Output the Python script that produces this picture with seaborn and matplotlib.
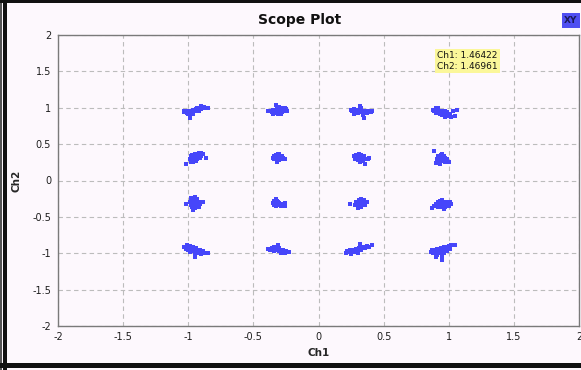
import pandas as pd
import matplotlib
matplotlib.use('Agg')
import matplotlib.pyplot as plt
import seaborn as sns
from matplotlib.patches import Rectangle

# =============================================================================
# Points, one list per constellation row (Ch1, Ch2)
# =============================================================================
row_top = [
    (-1.03, 0.95), (-1.03, 0.94), (-1.02, 0.96), (-1.01, 0.93), (-1.00, 0.95),
    (-0.99, 0.92), (-0.99, 0.94), (-0.98, 0.96), (-0.97, 0.93), (-0.97, 0.95),
    (-0.96, 0.97), (-0.96, 0.94), (-0.95, 0.96), (-0.94, 0.98), (-0.94, 0.95),
    (-0.93, 0.97), (-0.92, 0.99), (-0.92, 0.95), (-0.91, 0.99), (-0.90, 0.98),
    (-0.90, 1.03), (-0.89, 1.00), (-0.88, 1.01), (-0.87, 0.99), (-0.86, 1.00),
    (-0.85, 0.99), (-0.99, 0.86), (-1.00, 0.91), (-0.96, 0.92), (-0.93, 1.00),
    (-0.39, 0.95), (-0.37, 0.96), (-0.36, 0.94), (-0.35, 0.97), (-0.34, 0.93),
    (-0.34, 0.95), (-0.33, 0.96), (-0.32, 0.94), (-0.32, 0.98), (-0.31, 0.92),
    (-0.31, 0.95), (-0.30, 0.97), (-0.30, 0.93), (-0.29, 0.96), (-0.28, 0.99),
    (-0.28, 0.94), (-0.27, 0.97), (-0.26, 1.00), (-0.26, 0.95), (-0.25, 0.98),
    (-0.24, 0.96), (-0.33, 1.04), (-0.30, 1.01), (-0.35, 0.92), (-0.29, 0.91),
    (0.25, 0.97), (0.26, 0.95), (0.27, 0.98), (0.28, 0.94), (0.29, 0.96),
    (0.30, 0.93), (0.31, 0.95), (0.32, 0.94), (0.32, 1.02), (0.33, 0.99),
    (0.33, 0.96), (0.34, 0.93), (0.35, 0.95), (0.36, 0.94), (0.37, 0.93),
    (0.38, 0.95), (0.39, 0.94), (0.40, 0.94), (0.41, 0.95), (0.35, 0.86),
    (0.34, 0.90), (0.30, 0.97), (0.27, 0.92),
    (0.88, 0.97), (0.89, 0.95), (0.90, 0.93), (0.91, 0.97), (0.92, 0.94),
    (0.92, 0.99), (0.93, 0.92), (0.94, 0.96), (0.95, 0.90), (0.96, 0.93),
    (0.97, 0.95), (0.98, 0.91), (0.99, 0.94), (1.00, 0.88), (1.01, 0.92),
    (1.02, 0.87), (1.03, 0.96), (1.05, 0.89), (1.06, 0.97), (0.97, 0.87),
    (0.90, 0.99),
]
row_upper = [
    (-0.99, 0.30), (-0.98, 0.33), (-0.97, 0.28), (-0.97, 0.35), (-0.96, 0.31),
    (-0.96, 0.27), (-0.95, 0.34), (-0.95, 0.30), (-0.94, 0.37), (-0.94, 0.32),
    (-0.93, 0.29), (-0.93, 0.35), (-0.92, 0.33), (-0.92, 0.38), (-0.91, 0.31),
    (-0.91, 0.36), (-0.90, 0.34), (-0.89, 0.37), (-0.98, 0.26), (-0.96, 0.25),
    (-1.015, 0.22), (-0.86, 0.31), (-0.95, 0.36), (-0.94, 0.27), (-0.90, 0.38),
    (-0.35, 0.31), (-0.34, 0.29), (-0.34, 0.33), (-0.33, 0.35), (-0.33, 0.30),
    (-0.32, 0.27), (-0.32, 0.32), (-0.31, 0.34), (-0.31, 0.30), (-0.30, 0.36),
    (-0.30, 0.31), (-0.30, 0.28), (-0.29, 0.33), (-0.29, 0.30), (-0.28, 0.34),
    (-0.27, 0.31), (-0.26, 0.30), (-0.32, 0.26), (-0.31, 0.37),
    (0.27, 0.33), (0.28, 0.30), (0.29, 0.35), (0.29, 0.31), (0.30, 0.28),
    (0.30, 0.34), (0.31, 0.32), (0.31, 0.37), (0.32, 0.30), (0.32, 0.33),
    (0.33, 0.35), (0.33, 0.29), (0.34, 0.31), (0.34, 0.27), (0.35, 0.33),
    (0.36, 0.30), (0.38, 0.29), (0.39, 0.31), (0.36, 0.23), (0.32, 0.26),
    (0.89, 0.40), (0.91, 0.30), (0.91, 0.27), (0.92, 0.33), (0.92, 0.29),
    (0.93, 0.31), (0.93, 0.25), (0.94, 0.35), (0.94, 0.30), (0.94, 0.27),
    (0.95, 0.32), (0.95, 0.28), (0.96, 0.34), (0.96, 0.30), (0.97, 0.26),
    (0.97, 0.31), (0.98, 0.28), (0.99, 0.30), (1.00, 0.25), (0.95, 0.37),
    (0.93, 0.22), (0.90, 0.24),
]
row_lower = [
    (-1.02, -0.32), (-0.99, -0.29), (-0.98, -0.33), (-0.97, -0.27), (-0.97, -0.36),
    (-0.96, -0.30), (-0.96, -0.34), (-0.95, -0.23), (-0.95, -0.28), (-0.95, -0.38),
    (-0.94, -0.31), (-0.94, -0.35), (-0.93, -0.26), (-0.93, -0.33), (-0.92, -0.30),
    (-0.92, -0.37), (-0.91, -0.32), (-0.885, -0.29), (-0.96, -0.40), (-0.98, -0.24),
    (-0.35, -0.31), (-0.34, -0.28), (-0.34, -0.33), (-0.33, -0.26), (-0.33, -0.30),
    (-0.32, -0.32), (-0.32, -0.28), (-0.31, -0.34), (-0.31, -0.30), (-0.30, -0.33),
    (-0.30, -0.31), (-0.29, -0.35), (-0.29, -0.32), (-0.28, -0.34), (-0.27, -0.33),
    (-0.26, -0.35), (-0.26, -0.31), (-0.33, -0.35),
    (0.24, -0.32), (0.28, -0.33), (0.29, -0.29), (0.30, -0.35), (0.31, -0.31),
    (0.31, -0.27), (0.32, -0.33), (0.32, -0.30), (0.33, -0.36), (0.33, -0.28),
    (0.34, -0.32), (0.34, -0.30), (0.35, -0.34), (0.35, -0.27), (0.36, -0.31),
    (0.36, -0.33), (0.37, -0.29), (0.30, -0.38), (0.33, -0.25),
    (0.87, -0.38), (0.89, -0.35), (0.90, -0.32), (0.91, -0.35), (0.92, -0.30),
    (0.93, -0.33), (0.93, -0.28), (0.94, -0.36), (0.94, -0.31), (0.95, -0.27),
    (0.95, -0.34), (0.96, -0.30), (0.97, -0.33), (0.97, -0.37), (0.98, -0.29),
    (0.99, -0.32), (1.00, -0.35), (1.01, -0.30), (1.02, -0.32), (0.96, -0.39),
    (0.92, -0.37),
]
row_bottom = [
    (-1.03, -0.91), (-1.02, -0.94), (-1.01, -0.89), (-1.00, -0.92), (-1.00, -0.95),
    (-0.99, -0.90), (-0.98, -0.93), (-0.98, -0.96), (-0.97, -0.91), (-0.97, -0.94),
    (-0.96, -0.97), (-0.96, -0.92), (-0.95, -0.95), (-0.95, -0.99), (-0.94, -0.93),
    (-0.93, -0.96), (-0.93, -1.00), (-0.92, -0.98), (-0.91, -0.95), (-0.90, -1.01),
    (-0.89, -0.97), (-0.87, -0.99), (-0.85, -1.00), (-0.95, -1.05), (-0.99, -0.98),
    (-0.39, -0.94), (-0.37, -0.96), (-0.36, -0.93), (-0.35, -0.95), (-0.34, -0.92),
    (-0.34, -0.97), (-0.33, -0.94), (-0.32, -0.91), (-0.32, -0.96), (-0.31, -0.94),
    (-0.30, -0.97), (-0.30, -0.93), (-0.29, -0.95), (-0.28, -0.98), (-0.27, -0.96),
    (-0.26, -0.99), (-0.25, -0.97), (-0.23, -0.98), (-0.31, -0.89), (-0.29, -1.00),
    (0.21, -0.99), (0.22, -0.97), (0.23, -0.98), (0.24, -0.96), (0.25, -0.99),
    (0.26, -0.97), (0.27, -0.95), (0.27, -0.98), (0.28, -0.96), (0.29, -0.94),
    (0.29, -0.97), (0.30, -0.95), (0.31, -0.93), (0.31, -0.96), (0.32, -0.94),
    (0.33, -0.92), (0.33, -0.95), (0.34, -0.93), (0.35, -0.91), (0.36, -0.93),
    (0.37, -0.90), (0.39, -0.91), (0.41, -0.89), (0.32, -0.87), (0.25, -1.01),
    (0.30, -0.99),
    (0.86, -0.98), (0.87, -0.95), (0.88, -1.00), (0.89, -0.96), (0.90, -0.99),
    (0.91, -0.94), (0.91, -1.02), (0.92, -0.97), (0.93, -0.95), (0.93, -1.00),
    (0.94, -0.93), (0.94, -0.98), (0.95, -1.04), (0.95, -0.96), (0.96, -0.92),
    (0.96, -1.00), (0.97, -0.95), (0.98, -0.91), (0.99, -0.97), (1.00, -0.90),
    (1.01, -0.94), (1.02, -0.89), (1.05, -0.89), (0.95, -1.09), (0.90, -1.05),
]

tick_values = [-2, -1.5, -1, -0.5, 0, 0.5, 1, 1.5, 2]
tick_labels = ['-2', '-1.5', '-1', '-0.5', '0', '0.5', '1', '1.5', '2']
marker_readout = 'Ch1: 1.46422\nCh2: 1.46961'

# =============================================================================
# Styling
# =============================================================================
bg = '#fdf8fd'
dot_blue = '#4646fa'

sns.set_theme(style='white')
plt.rcParams['font.family'] = ['DejaVu Sans']
plt.rcParams['axes.unicode_minus'] = False

df = pd.DataFrame(row_top + row_upper + row_lower + row_bottom,
                  columns=['Ch1', 'Ch2'])

fig = plt.figure(figsize=(5.81, 3.70), dpi=100, facecolor=bg)
ax = fig.add_axes([58 / 581, 1 - 326 / 370, 521 / 581, 291 / 370])
ax.set_facecolor(bg)

sns.scatterplot(data=df, x='Ch1', y='Ch2', ax=ax, color=dot_blue,
                marker='s', s=7, linewidth=0, legend=False)

ax.set_xlim(-2, 2)
ax.set_ylim(-2, 2)
ax.set_xticks(tick_values)
ax.set_xticklabels(tick_labels)
ax.set_yticks(tick_values)
ax.set_yticklabels(tick_labels)
ax.tick_params(length=0, labelsize=7, colors='#1e1e1e')
ax.tick_params(axis='x', pad=4)
ax.tick_params(axis='y', pad=5)
ax.grid(True, color='#bcbcbc', linestyle=(0, (4, 3)), linewidth=0.8)

for side in ['left', 'bottom', 'top', 'right']:
    ax.spines[side].set_color('#7a7a7a')
    ax.spines[side].set_linewidth(1.0)

ax.set_xlabel('Ch1', fontsize=7.5, fontweight='bold', labelpad=5)
ax.set_ylabel('Ch2', fontsize=7.5, fontweight='bold', labelpad=8)

fig.text(300 / 581, 1 - 20 / 370, 'Scope Plot', ha='center', va='center',
         fontsize=10, fontweight='bold', color='#111111')

# marker readout
fig.text(437 / 581, 1 - 61 / 370, marker_readout, ha='left', va='center',
         fontsize=6.5, color='#111111', linespacing=1.25,
         bbox=dict(boxstyle='square,pad=0.25', fc='#fbf79a', ec='none'))

# XY legend chip
fig.patches.append(Rectangle((562 / 581, 1 - 28 / 370), 18 / 581, 15 / 370,
                             transform=fig.transFigure, fc='#4f4ff2',
                             ec='none'))
fig.text(571 / 581, 1 - 20.5 / 370, 'XY', ha='center', va='center',
         fontsize=6.5, fontweight='bold', color='#1a1a5a')

# widget frame
fig.patches.append(Rectangle((0, 0), 2 / 581, 1, transform=fig.transFigure,
                             fc='#555555', ec='none'))
fig.patches.append(Rectangle((3 / 581, 0), 4 / 581, 1,
                             transform=fig.transFigure, fc='#111111',
                             ec='none'))
fig.patches.append(Rectangle((0, 1 - 3 / 370), 1, 2.5 / 370,
                             transform=fig.transFigure, fc='#111111',
                             ec='none'))
fig.patches.append(Rectangle((0, 2 / 370), 1, 5 / 370,
                             transform=fig.transFigure, fc='#111111',
                             ec='none'))

fig.savefig('out.png', dpi=100, facecolor=bg)
